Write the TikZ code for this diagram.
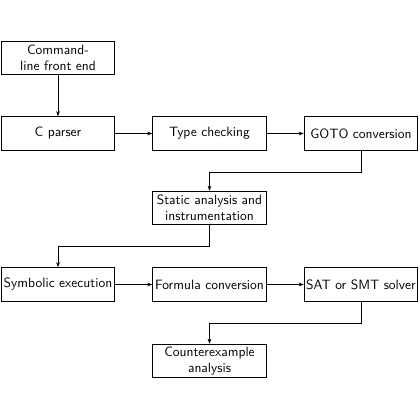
\documentclass[tikz,border=0pt]{standalone}
\usetikzlibrary{arrows.meta}
\begin{document}
\begin{tikzpicture}[x=0.8pt,y=0.8pt,
  stage/.style={draw,line width=0.7pt,minimum width=91pt,minimum height=27pt,inner sep=1pt,align=center,font=\sffamily\fontsize{10.8}{13}\selectfont},
  conn/.style={line width=0.6pt,-{Stealth[length=4pt,width=3pt]}}]
\useasboundingbox (0,0) rectangle (420,420);
\node[stage] (cli) at (58,362) {Command-\\line front end};
\node[stage] (cparse) at (58,286.5) {C parser};
\node[stage] (type) at (209.5,286.5) {Type checking};
\node[stage] (goto) at (361,286.5) {GOTO conversion};
\node[stage] (static) at (209.5,212) {Static analysis and\\instrumentation};
\node[stage] (sym) at (58,135.5) {Symbolic execution};
\node[stage] (form) at (209.5,135.5) {Formula conversion};
\node[stage] (sat) at (361,135.5) {SAT or SMT solver};
\node[stage] (cex) at (209.5,59) {Counterexample\\analysis};
\draw[conn] (cli) -- (cparse);
\draw[conn] (cparse) -- (type);
\draw[conn] (type) -- (goto);
\draw[conn] (goto.south) -- ++(0,-21.5) -| (static.north);
\draw[conn] (static.south) -- ++(0,-21) -| (sym.north);
\draw[conn] (sym) -- (form);
\draw[conn] (form) -- (sat);
\draw[conn] (sat.south) -- ++(0,-21.5) -| (cex.north);
\end{tikzpicture}
\end{document}
